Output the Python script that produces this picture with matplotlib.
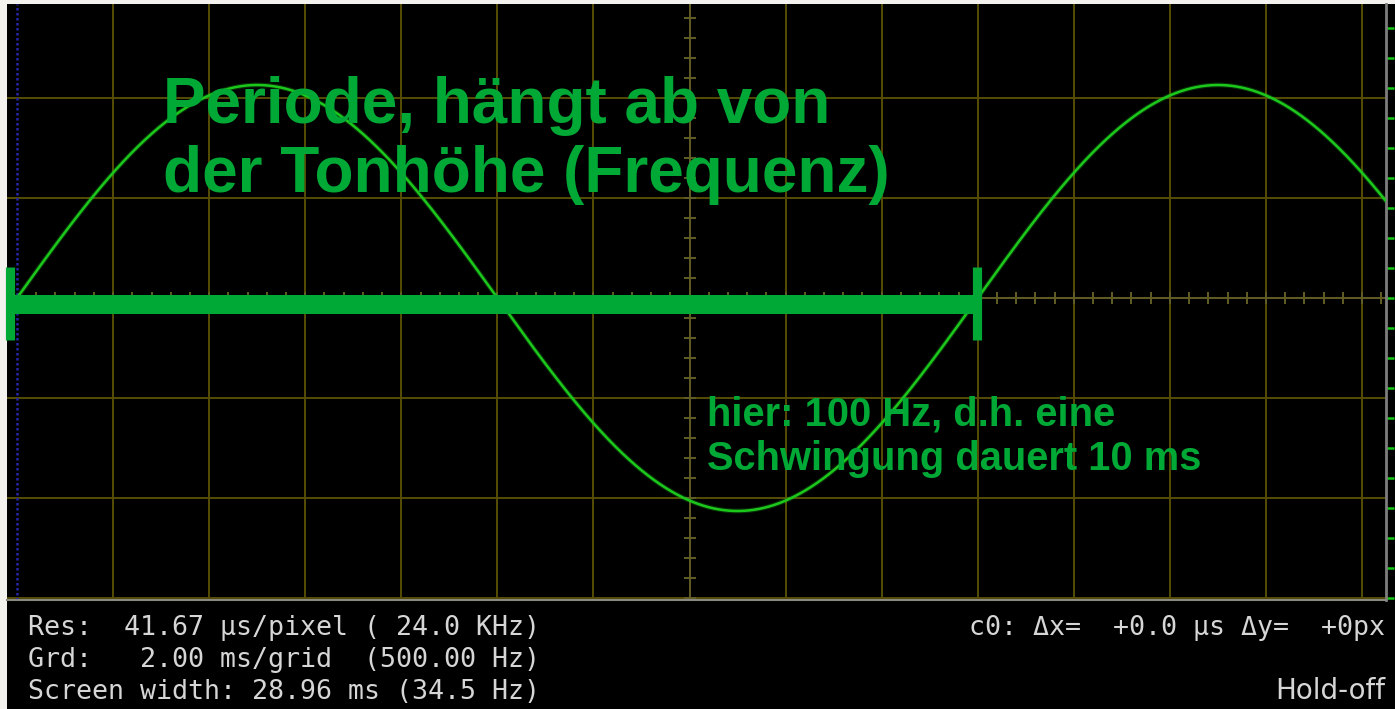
import matplotlib.pyplot as plt
import numpy as np
from matplotlib.ticker import MultipleLocator, NullLocator

W, H = 1395, 709

# --- signal on the scope screen (x and y in grid divisions) ---
period_div = 10.0        # one oscillation spans 10 divisions
amplitude_div = 2.13
screen_div = 14.24       # visible width of the trace

# hand drawn "period" bar
marker_start, marker_end = -0.068, 9.987
marker_y = -0.055
cap_top, cap_bottom = 0.31, -0.42

title_lines = ["Periode, hängt ab von", "der Tonhöhe (Frequenz)"]
note_lines = ["hier: 100 Hz, d.h. eine", "Schwingung dauert 10 ms"]
status_left = ["Res:  41.67 µs/pixel ( 24.0 KHz)",
               "Grd:   2.00 ms/grid  (500.00 Hz)",
               "Screen width: 28.96 ms (34.5 Hz)"]
status_right = "c0: Δx=  +0.0 µs Δy=  +0px"
holdoff = "Hold-off"

GREEN = "#00a835"
TRACE = "#1cc81c"
GRID = "#564e04"
CENTER = "#625d26"
PANEL_TXT = "#d6d6d6"

fig = plt.figure(figsize=(W / 100, H / 100), dpi=100, facecolor="#f4f2ee")

# black screen + status panel
bg = fig.add_axes([7 / W, 0, (W - 7) / W, (H - 4) / H])
bg.set_facecolor("black")
bg.set_xticks([])
bg.set_yticks([])
for s in bg.spines.values():
    s.set_visible(False)

# --- scope area ---
ax = fig.add_axes([7 / W, 1 - 600 / H, 1379 / W, 596 / H])
ax.set_facecolor("none")
ax.set_xlim(-0.104, 14.249)
ax.set_ylim(-3.02, 2.94)

for gx in range(1, 15):
    if gx != 7:
        ax.axvline(gx, color=GRID, lw=1.4, zorder=1)
for gy in range(-3, 3):
    if gy != 0:
        ax.axhline(gy, color=GRID, lw=1.4, zorder=1)

# center cross with small ticks
ax.axvline(7, color=CENTER, lw=1.4, zorder=1)
ax.axhline(0, color=CENTER, lw=1.4, zorder=1)
tx = np.arange(0.2, 14.3, 0.2)
ax.plot(tx, np.zeros_like(tx), ls="none", marker="|", ms=8.5,
        mew=1.4, color=CENTER, zorder=1)
ty = np.arange(-3.0, 3.0, 0.2)
ax.plot(np.full_like(ty, 7), ty, ls="none", marker="_", ms=8.5,
        mew=1.4, color=CENTER, zorder=1)

# trigger line
ax.axvline(0, color="#2626a8", lw=1.8, ls=(0, (1, 1)), zorder=2)

# trace
t = np.linspace(0, screen_div, 3000)
v = amplitude_div * np.sin(2 * np.pi * t / period_div)
ax.plot(t, v, color=TRACE, lw=3.4, alpha=0.25, zorder=3)
ax.plot(t, v, color=TRACE, lw=1.8, zorder=3)

# period bar
ax.plot([marker_start, marker_end], [marker_y, marker_y], color=GREEN,
        lw=13.7, solid_capstyle="butt", zorder=5, clip_on=False)
for mx in (marker_start, marker_end):
    ax.plot([mx, mx], [cap_bottom, cap_top], color=GREEN, lw=6.6,
            solid_capstyle="butt", zorder=5, clip_on=False)

# annotations
for line, y in zip(title_lines, [1.75, 1.06]):
    ax.text(1.52, y, line, color=GREEN, fontsize=46, fontweight="bold",
            family="Liberation Sans", va="baseline", ha="left", zorder=6)
for line, y in zip(note_lines, [-1.27, -1.72]):
    ax.text(7.18, y, line, color=GREEN, fontsize=28.7, fontweight="bold",
            family="Liberation Sans", va="baseline", ha="left", zorder=6)

# frame: separator at bottom, gray bar at right with green scale marks
for side in ("left", "top"):
    ax.spines[side].set_visible(False)
ax.spines["bottom"].set_color("#8a8a82")
ax.spines["bottom"].set_linewidth(1.5)
ax.spines["right"].set_color("#7d7d7d")
ax.spines["right"].set_linewidth(2)
ax.xaxis.set_major_locator(NullLocator())
ax.yaxis.set_major_locator(MultipleLocator(0.3))
ax.yaxis.set_ticks_position("right")
ax.tick_params(axis="y", direction="out", length=5.5, width=1.8,
               colors="#12c812", labelright=False, labelleft=False)

# --- status panel text ---
for line, y in zip(status_left, [635, 667, 699]):
    fig.text(28 / W, 1 - y / H, line, color=PANEL_TXT, fontsize=19.2,
             family="DejaVu Sans Mono", va="baseline", ha="left")
fig.text(1385 / W, 1 - 635 / H, status_right, color=PANEL_TXT, fontsize=19.2,
         family="DejaVu Sans Mono", va="baseline", ha="right")
fig.text(1385 / W, 1 - 699 / H, holdoff, color=PANEL_TXT, fontsize=20,
         family="DejaVu Sans", va="baseline", ha="right")

fig.savefig("out.png", dpi=100, facecolor=fig.get_facecolor())
